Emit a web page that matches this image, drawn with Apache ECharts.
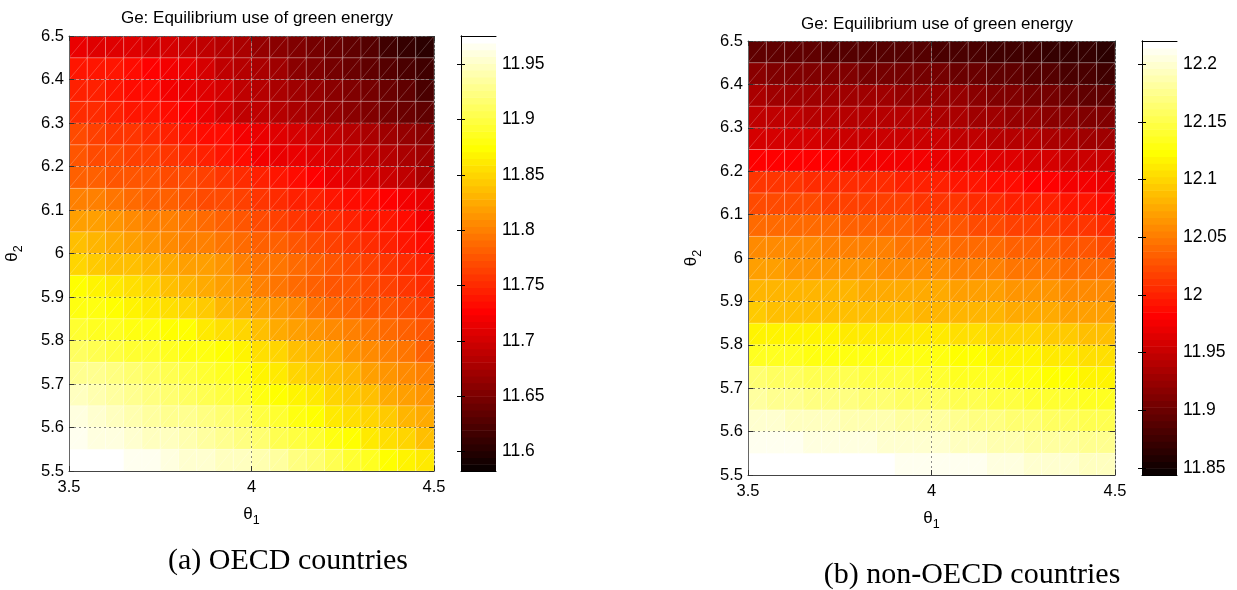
<!DOCTYPE html>
<html><head><meta charset="utf-8">
<script src="https://cdn.jsdelivr.net/npm/echarts@6/dist/echarts.min.js"></script>
<style>html,body{margin:0;padding:0;background:#fff}#c{width:1237px;height:590px}</style>
</head><body><div id="c"></div>
<script>
// ---------- data ----------
const theta1 = [3.50,3.55,3.60,3.65,3.70,3.75,3.80,3.85,3.90,3.95,4.00,4.05,4.10,4.15,4.20,4.25,4.30,4.35,4.40,4.45];
const theta2 = [5.50,5.55,5.60,5.65,5.70,5.75,5.80,5.85,5.90,5.95,6.00,6.05,6.10,6.15,6.20,6.25,6.30,6.35,6.40,6.45];
const theta1Ticks = [3.5, 4, 4.5];
const theta2Ticks = [5.5,5.6,5.7,5.8,5.9,6.0,6.1,6.2,6.3,6.4,6.5];
const oecdColorLimits = [11.5825, 11.9756];
const nonOecdColorLimits = [11.844, 12.220];
const oecdBarTicks = [11.6,11.65,11.7,11.75,11.8,11.85,11.9,11.95];
const nonOecdBarTicks = [11.85,11.9,11.95,12,12.05,12.1,12.15,12.2];
const titleText = 'Ge: Equilibrium use of green energy';
const captions = ['(a) OECD countries', '(b) non-OECD countries'];

// rows follow theta2 (bottom to top), columns follow theta1
const oecdGe = [
[11.975,11.975,11.972,11.968,11.964,11.960,11.956,11.952,11.949,11.946,11.942,11.934,11.925,11.915,11.905,11.895,11.885,11.877,11.868,11.859],
[11.967,11.963,11.958,11.954,11.949,11.945,11.940,11.935,11.930,11.925,11.917,11.908,11.899,11.890,11.881,11.873,11.865,11.856,11.848,11.840],
[11.958,11.953,11.948,11.943,11.937,11.932,11.927,11.921,11.916,11.911,11.900,11.890,11.880,11.873,11.865,11.857,11.849,11.842,11.834,11.827],
[11.946,11.941,11.935,11.930,11.924,11.919,11.913,11.907,11.901,11.895,11.882,11.875,11.867,11.859,11.851,11.843,11.836,11.828,11.820,11.813],
[11.932,11.927,11.922,11.917,11.912,11.906,11.900,11.894,11.888,11.880,11.868,11.860,11.852,11.844,11.836,11.829,11.822,11.814,11.806,11.799],
[11.910,11.905,11.900,11.895,11.890,11.886,11.882,11.878,11.874,11.866,11.855,11.847,11.839,11.831,11.823,11.815,11.807,11.800,11.792,11.785],
[11.890,11.887,11.884,11.881,11.879,11.877,11.872,11.865,11.857,11.848,11.836,11.828,11.820,11.812,11.805,11.798,11.792,11.786,11.780,11.773],
[11.880,11.878,11.876,11.870,11.862,11.855,11.848,11.841,11.834,11.827,11.818,11.811,11.804,11.797,11.790,11.784,11.779,11.774,11.768,11.763],
[11.877,11.871,11.864,11.856,11.848,11.840,11.833,11.826,11.819,11.811,11.803,11.797,11.791,11.785,11.779,11.773,11.768,11.763,11.758,11.754],
[11.850,11.845,11.840,11.836,11.831,11.826,11.822,11.816,11.810,11.803,11.797,11.794,11.790,11.784,11.778,11.772,11.766,11.760,11.752,11.745],
[11.840,11.834,11.828,11.822,11.815,11.809,11.803,11.799,11.794,11.790,11.785,11.781,11.776,11.770,11.764,11.758,11.752,11.746,11.740,11.735],
[11.822,11.817,11.813,11.808,11.803,11.799,11.794,11.788,11.782,11.776,11.770,11.763,11.757,11.753,11.750,11.746,11.742,11.739,11.730,11.720],
[11.803,11.799,11.794,11.790,11.785,11.781,11.776,11.771,11.767,11.762,11.757,11.753,11.748,11.744,11.739,11.735,11.730,11.724,11.718,11.712],
[11.785,11.782,11.779,11.776,11.773,11.770,11.767,11.761,11.756,11.750,11.745,11.739,11.731,11.724,11.716,11.708,11.701,11.694,11.687,11.680],
[11.776,11.772,11.768,11.765,11.761,11.757,11.751,11.744,11.737,11.730,11.722,11.717,11.712,11.707,11.702,11.696,11.690,11.683,11.676,11.670],
[11.767,11.763,11.759,11.756,11.752,11.748,11.742,11.736,11.730,11.722,11.716,11.710,11.703,11.696,11.690,11.684,11.678,11.672,11.667,11.661],
[11.752,11.749,11.745,11.741,11.738,11.734,11.724,11.714,11.703,11.693,11.688,11.683,11.677,11.672,11.667,11.662,11.655,11.648,11.640,11.633],
[11.748,11.744,11.739,11.735,11.730,11.723,11.716,11.710,11.703,11.692,11.682,11.677,11.672,11.666,11.661,11.656,11.648,11.640,11.632,11.624],
[11.741,11.739,11.737,11.735,11.727,11.720,11.712,11.703,11.693,11.684,11.675,11.669,11.662,11.656,11.649,11.643,11.636,11.629,11.622,11.615],
[11.712,11.710,11.708,11.707,11.705,11.703,11.696,11.689,11.682,11.675,11.668,11.661,11.654,11.648,11.641,11.634,11.626,11.618,11.609,11.601]
];

const nonOecdGe = [
[12.221,12.221,12.220,12.220,12.218,12.217,12.216,12.215,12.214,12.214,12.213,12.211,12.209,12.207,12.204,12.202,12.200,12.197,12.195,12.192],
[12.213,12.211,12.210,12.208,12.207,12.205,12.203,12.202,12.200,12.199,12.197,12.194,12.192,12.189,12.187,12.184,12.182,12.179,12.177,12.174],
[12.200,12.198,12.196,12.194,12.192,12.190,12.188,12.186,12.184,12.182,12.180,12.177,12.173,12.170,12.167,12.163,12.160,12.157,12.153,12.150],
[12.180,12.178,12.175,12.173,12.170,12.168,12.166,12.163,12.161,12.158,12.156,12.153,12.151,12.148,12.146,12.143,12.141,12.138,12.136,12.133],
[12.162,12.160,12.157,12.155,12.153,12.151,12.148,12.146,12.144,12.141,12.139,12.137,12.134,12.132,12.130,12.127,12.125,12.123,12.120,12.118],
[12.133,12.132,12.132,12.131,12.131,12.130,12.129,12.129,12.128,12.128,12.127,12.125,12.122,12.120,12.117,12.115,12.112,12.110,12.107,12.105],
[12.118,12.117,12.116,12.116,12.115,12.114,12.113,12.112,12.112,12.111,12.110,12.107,12.105,12.102,12.100,12.097,12.095,12.092,12.090,12.087],
[12.091,12.090,12.089,12.089,12.088,12.087,12.086,12.085,12.085,12.084,12.083,12.082,12.080,12.079,12.077,12.076,12.074,12.073,12.071,12.070],
[12.083,12.082,12.081,12.080,12.079,12.079,12.078,12.077,12.076,12.075,12.074,12.072,12.070,12.068,12.066,12.064,12.062,12.060,12.058,12.056],
[12.070,12.069,12.067,12.066,12.064,12.063,12.062,12.060,12.059,12.057,12.056,12.054,12.052,12.050,12.048,12.046,12.044,12.043,12.041,12.039],
[12.061,12.059,12.058,12.056,12.055,12.053,12.051,12.050,12.048,12.047,12.045,12.043,12.041,12.038,12.036,12.034,12.032,12.029,12.027,12.025],
[12.043,12.042,12.040,12.039,12.038,12.037,12.035,12.034,12.033,12.031,12.030,12.028,12.025,12.023,12.020,12.018,12.015,12.013,12.010,12.008],
[12.025,12.024,12.022,12.021,12.020,12.019,12.017,12.016,12.015,12.013,12.012,12.010,12.007,12.005,12.002,12.000,11.997,11.995,11.992,11.990],
[12.012,12.011,12.009,12.008,12.007,12.006,12.004,12.003,12.002,12.000,11.999,11.996,11.993,11.990,11.987,11.985,11.982,11.979,11.976,11.973],
[11.985,11.984,11.983,11.981,11.980,11.979,11.978,11.977,11.975,11.974,11.973,11.970,11.968,11.965,11.963,11.960,11.958,11.955,11.953,11.950],
[11.959,11.958,11.957,11.956,11.955,11.955,11.954,11.953,11.952,11.951,11.950,11.948,11.945,11.943,11.941,11.938,11.936,11.934,11.931,11.929],
[11.946,11.945,11.944,11.943,11.942,11.942,11.941,11.940,11.939,11.938,11.937,11.934,11.931,11.928,11.925,11.922,11.919,11.916,11.913,11.910],
[11.933,11.932,11.931,11.930,11.929,11.929,11.928,11.927,11.926,11.925,11.924,11.921,11.917,11.914,11.910,11.907,11.903,11.900,11.896,11.893],
[11.915,11.914,11.913,11.911,11.910,11.909,11.908,11.907,11.905,11.904,11.903,11.900,11.897,11.895,11.892,11.889,11.886,11.884,11.881,11.878],
[11.894,11.893,11.892,11.891,11.890,11.890,11.889,11.888,11.887,11.886,11.885,11.883,11.881,11.879,11.877,11.874,11.872,11.870,11.868,11.866]
];

// ---------- hot colormap (64 levels, like MATLAB hot) ----------
const NLEV = 64;
const hot = [];
for (let i = 0; i < NLEV; i++) {
  const c = v => Math.max(0, Math.min(1, v));
  const r = c((i + 1) / 24), g = c((i + 1 - 24) / 24), b = c((i + 1 - 48) / 16);
  hot.push('rgb(' + Math.round(r*255) + ',' + Math.round(g*255) + ',' + Math.round(b*255) + ')');
}
function hotColor(v, lim) {
  let k = Math.floor((v - lim[0]) / (lim[1] - lim[0]) * NLEV);
  return hot[Math.max(0, Math.min(NLEV - 1, k))];
}

const dX = theta1[1] - theta1[0];
const dY = theta2[1] - theta2[0];
function cells(table) {
  const out = [];
  for (let i = 0; i < theta2.length; i++)
    for (let j = 0; j < theta1.length; j++)
      out.push([theta1[j], theta2[i], table[i][j]]);
  return out;
}
const levels = [];
for (let i = 0; i < NLEV; i++) levels.push([i]);

function cellRenderer(lim) {
  return function (params, api) {
    const x = api.value(0), y = api.value(1), v = api.value(2);
    const p0 = api.coord([x, y]);
    const p1 = api.coord([x + dX, y + dY]);
    return {
      type: 'group',
      children: [
        { type: 'rect', shape: { x: p0[0], y: p1[1], width: p1[0] - p0[0], height: p0[1] - p1[1] },
          style: { fill: hotColor(v, lim), stroke: 'rgba(255,255,255,0.2)', lineWidth: 1 } },
        { type: 'line', shape: { x1: p0[0], y1: p0[1], x2: p1[0], y2: p1[1] },
          style: { stroke: 'rgba(255,255,255,0.3)', lineWidth: 0.7 } }
      ]
    };
  };
}
function barRenderer(lim) {
  return function (params, api) {
    const i = api.value(0);
    const step = (lim[1] - lim[0]) / NLEV;
    const p0 = api.coord([0, lim[0] + i * step]);
    const p1 = api.coord([1, lim[0] + (i + 1) * step]);
    return { type: 'rect',
      shape: { x: p0[0], y: p1[1], width: p1[0] - p0[0], height: p0[1] - p1[1] + 0.6 },
      style: { fill: hot[i] } };
  };
}

const FONT = 'Liberation Sans';
const lab = { color: '#000', fontSize: 16.5, fontFamily: FONT };
const barLab = { color: '#000', fontSize: 17.5, fontFamily: FONT };
const subName = (n) => '{t|θ}{s|' + n + '}';
const richName = { t: { fontSize: 17, fontFamily: FONT, color: '#000' },
                   s: { fontSize: 12.5, fontFamily: FONT, color: '#000', padding: [13, 0, 0, 0] } };
const gridLine = { show: true, lineStyle: { color: 'rgba(50,50,50,0.55)', type: [2, 3], width: 1 } };
const tickIn = { show: true, inside: true, length: 5, lineStyle: { color: '#333' } };

const grids = [
  { left: 69, top: 36, width: 365, height: 435 },
  { left: 461, top: 36, width: 35, height: 435 },
  { left: 748, top: 41, width: 367, height: 434 },
  { left: 1142, top: 41, width: 35, height: 434 }
];

const xAxes = [], yAxes = [], series = [];
function addPlot(g, table, lim, barTicks) {
  const gp = g, gb = g + 1;
  const xi = xAxes.length, yi = yAxes.length;
  // heatmap axes
  xAxes.push({ gridIndex: gp, type: 'value', min: theta1Ticks[0], max: theta1Ticks[theta1Ticks.length-1], interval: 0.5,
    position: 'bottom', z: 5, axisLine: { lineStyle: { color: '#444' } }, axisTick: tickIn,
    axisLabel: Object.assign({ margin: 8, customValues: theta1Ticks }, lab),
    splitLine: gridLine,
    name: subName(1), nameLocation: 'middle', nameGap: 30, nameTextStyle: { rich: richName } });
  xAxes.push({ gridIndex: gp, type: 'value', min: theta1Ticks[0], max: theta1Ticks[theta1Ticks.length-1], interval: 0.5,
    position: 'top', z: 5, axisLine: { lineStyle: { color: '#555', type: [2, 2] } }, axisTick: tickIn,
    axisLabel: { show: false }, splitLine: { show: false } });
  yAxes.push({ gridIndex: gp, type: 'value', min: theta2Ticks[0], max: theta2Ticks[theta2Ticks.length-1], interval: 0.1,
    position: 'left', z: 5, axisLine: { lineStyle: { color: '#666' } }, axisTick: tickIn,
    axisLabel: Object.assign({ margin: 5, customValues: theta2Ticks, formatter: v => String(+v.toFixed(1)) }, lab),
    splitLine: gridLine,
    name: subName(2), nameLocation: 'middle', nameGap: 44, nameTextStyle: { rich: richName } });
  yAxes.push({ gridIndex: gp, type: 'value', min: theta2Ticks[0], max: theta2Ticks[theta2Ticks.length-1], interval: 0.1,
    position: 'right', z: 5, axisLine: { lineStyle: { color: '#555', type: [2, 2] } }, axisTick: tickIn,
    axisLabel: { show: false }, splitLine: { show: false } });
  series.push({ type: 'custom', xAxisIndex: xi, yAxisIndex: yi, data: cells(table),
    renderItem: cellRenderer(lim), silent: true, animation: false });
  // colorbar axes
  const bxi = xAxes.length, byi = yAxes.length;
  xAxes.push({ gridIndex: gb, type: 'value', min: 0, max: 1, position: 'bottom', z: 5,
    axisLine: { lineStyle: { color: '#000' } }, axisTick: { show: false }, axisLabel: { show: false }, splitLine: { show: false } });
  xAxes.push({ gridIndex: gb, type: 'value', min: 0, max: 1, position: 'top', z: 5,
    axisLine: { lineStyle: { color: '#000' } }, axisTick: { show: false }, axisLabel: { show: false }, splitLine: { show: false } });
  yAxes.push({ gridIndex: gb, type: 'value', min: lim[0], max: lim[1], position: 'right', z: 5,
    axisLine: { lineStyle: { color: '#000' } },
    axisTick: { show: true, inside: true, length: 4, customValues: barTicks, lineStyle: { color: '#000' } },
    axisLabel: Object.assign({ margin: 6, customValues: barTicks }, barLab), splitLine: { show: false } });
  yAxes.push({ gridIndex: gb, type: 'value', min: lim[0], max: lim[1], position: 'left', z: 5,
    axisLine: { lineStyle: { color: '#000' } },
    axisTick: { show: true, inside: true, length: 4, customValues: barTicks, lineStyle: { color: '#000' } },
    axisLabel: { show: false }, splitLine: { show: false } });
  series.push({ type: 'custom', xAxisIndex: bxi, yAxisIndex: byi, data: levels,
    renderItem: barRenderer(lim), silent: true, animation: false });
}
addPlot(0, oecdGe, oecdColorLimits, oecdBarTicks);
addPlot(2, nonOecdGe, nonOecdColorLimits, nonOecdBarTicks);

const chart = echarts.init(document.getElementById('c'), null, { renderer: 'canvas' });
chart.setOption({
  backgroundColor: '#fff',
  animation: false,
  title: [
    { text: titleText, left: 252, top: 5, textAlign: 'center', textStyle: { fontSize: 17, fontWeight: 'normal', color: '#000', fontFamily: FONT } },
    { text: titleText, left: 932, top: 11, textAlign: 'center', textStyle: { fontSize: 17, fontWeight: 'normal', color: '#000', fontFamily: FONT } },
    { text: captions[0], left: 283, top: 541, textAlign: 'center', textStyle: { fontSize: 30, fontWeight: 'normal', color: '#000', fontFamily: 'Liberation Serif' } },
    { text: captions[1], left: 967, top: 555, textAlign: 'center', textStyle: { fontSize: 30, fontWeight: 'normal', color: '#000', fontFamily: 'Liberation Serif' } }
  ],
  grid: grids,
  xAxis: xAxes,
  yAxis: yAxes,
  series: series
});
</script></body></html>
